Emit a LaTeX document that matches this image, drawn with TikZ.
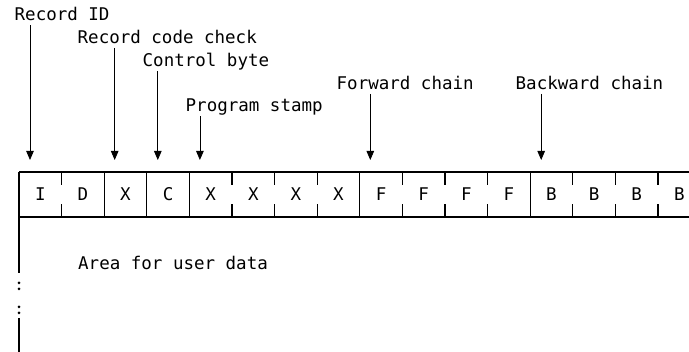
\documentclass[tikz,border=0pt]{standalone}
\usepackage{fontspec}
\usepackage{tikz}
\usetikzlibrary{positioning,arrows.meta}
\newfontfamily\recfont{DejaVu Sans Mono}
\tikzstyle{cell} = [rectangle, minimum width=42.6pt, minimum height=45pt,
    inner sep=0pt, outer sep=0pt]
\tikzstyle{fieldlabel} = [anchor=base west, inner sep=0.5pt, text depth=4pt]
\tikzstyle{pointer} = [-{Triangle[width=7.5pt,length=9pt]}, line width=0.8pt]
\tikzstyle{gridline} = [line width=1.1pt]

\begin{document}
\begin{tikzpicture}[x=1pt, y=-1pt, node distance=0pt,
        every node/.style={font=\recfont\fontsize{17.5pt}{21pt}\selectfont}]
                \useasboundingbox (0,0) rectangle (689,352);
                \node[cell] (c1) at (40.3,194.5) {I};
                \node[cell, right=of c1] (c2) {D};
                \node[cell, right=of c2] (c3) {X};
                \node[cell, right=of c3] (c4) {C};
                \node[cell, right=of c4] (c5) {X};
                \node[cell, right=of c5] (c6) {X};
                \node[cell, right=of c6] (c7) {X};
                \node[cell, right=of c7] (c8) {X};
                \node[cell, right=of c8] (c9) {F};
                \node[cell, right=of c9] (c10) {F};
                \node[cell, right=of c10] (c11) {F};
                \node[cell, right=of c11] (c12) {F};
                \node[cell, right=of c12] (c13) {B};
                \node[cell, right=of c13] (c14) {B};
                \node[cell, right=of c14] (c15) {B};
                \node[cell, right=of c15] (c16) {B};
                \draw[gridline] (c1.north west) -- (c16.north east);
                \draw[gridline] (c1.south west) -- (c16.south east);
                \foreach \cname in {c3,c4,c5,c9,c13}
                    \draw[gridline] (\cname.north west) -- (\cname.south west);
                \foreach \cname in {c2,c6,c7,c8,c10,c11,c12,c14,c15,c16} {
                    \draw[gridline] (\cname.north west) -- ([yshift=-13pt]\cname.north west);
                    \draw[gridline] (\cname.south west) -- ([yshift=13pt]\cname.south west);
                }
                \coordinate (brk1) at (c1.south west |- 0,273);
                \coordinate (brk2) at (c1.south west |- 0,318);
                \coordinate (bottom) at (c1.south west |- 0,352);
                \draw[gridline] (c1.north west) -- (brk1);
                \draw[gridline] (brk2) -- (bottom);
                \foreach \y in {283,289,307,313}
                    \fill (c1.south west |- 0,\y) circle (1.5pt);
                \node[anchor=base west, inner sep=0pt] (area) at (78,270) {Area for user data};
                \node[fieldlabel] (lblId) at (14,20.7) {Record ID};
                \node[fieldlabel] (lblCheck) at (77,43.3) {Record code check};
                \node[fieldlabel] (lblCtrl) at (142,66.7) {Control byte};
                \node[fieldlabel] (lblStamp) at (185,111.7) {Program stamp};
                \node[fieldlabel] (lblFwd) at (336,89.3) {Forward chain};
                \node[fieldlabel] (lblBwd) at (515,89.3) {Backward chain};
                \coordinate (tId) at ([xshift=11pt,yshift=12pt]c1.north west);
                \coordinate (tCheck) at ([xshift=10.5pt,yshift=12pt]c3.north west);
                \coordinate (tCtrl) at ([xshift=11pt,yshift=12pt]c4.north west);
                \coordinate (tStamp) at ([xshift=10.5pt,yshift=12pt]c5.north west);
                \coordinate (tFwd) at ([xshift=10.5pt,yshift=12pt]c9.north west);
                \coordinate (tBwd) at ([xshift=11pt,yshift=12pt]c13.north west);
                \draw[pointer] (lblId.south -| tId) -- (tId);
                \draw[pointer] (lblCheck.south -| tCheck) -- (tCheck);
                \draw[pointer] (lblCtrl.south -| tCtrl) -- (tCtrl);
                \draw[pointer] (lblStamp.south -| tStamp) -- (tStamp);
                \draw[pointer] (lblFwd.south -| tFwd) -- (tFwd);
                \draw[pointer] (lblBwd.south -| tBwd) -- (tBwd);
            \end{tikzpicture}
\end{document}
